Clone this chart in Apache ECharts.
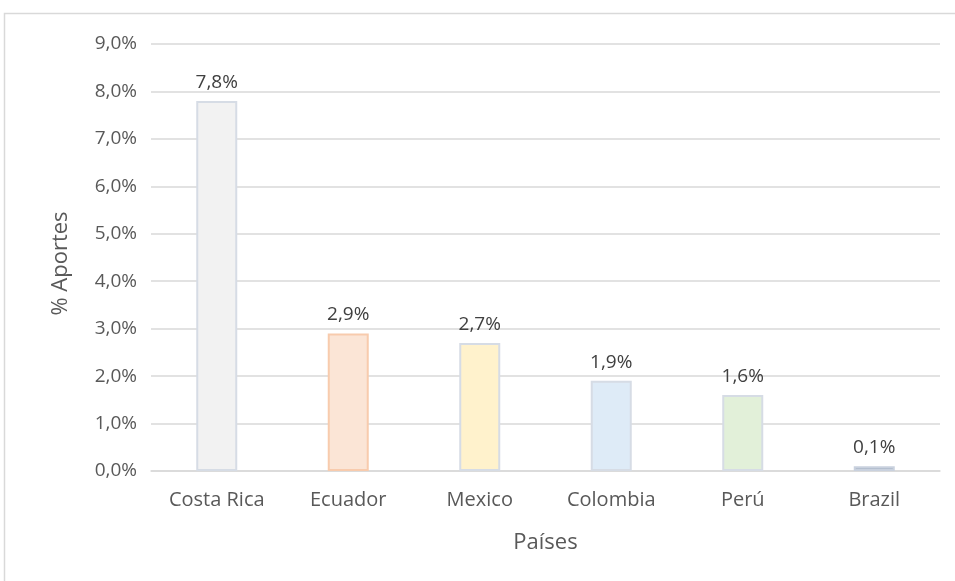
<!DOCTYPE html>
<html>
<head>
<meta charset="utf-8">
<script src="https://cdn.jsdelivr.net/npm/echarts@6/dist/echarts.min.js"></script>
<style>
  html, body { margin: 0; padding: 0; background: #fff; }
  #main { width: 955px; height: 581px; }
</style>
</head>
<body>
<div id="main"></div>
<script>
// datos del gráfico
var paises = ['Costa Rica', 'Ecuador', 'Mexico', 'Colombia', 'Perú', 'Brazil'];
var aportes = [7.8, 2.9, 2.7, 1.9, 1.6, 0.1];
var rellenos = ['#f2f2f2', '#fbe5d6', '#fff2cc', '#deebf7', '#e2f0d9', '#adb9ca'];
var bordes = ['#d6dce5', '#f8cbad', '#d6dce5', '#d6dce5', '#d6dce5', '#c9d1de'];

var myChart = echarts.init(document.getElementById('main'));

var fuente = '"Open Sans", "Liberation Sans", sans-serif';

function pct(v) {
    return v.toFixed(1).replace('.', ',') + '%';
}

var option = {
    animation: false,
    textStyle: { fontFamily: fuente },
    graphic: [
        {
            type: 'rect',
            shape: { x: 4.5, y: 13.5, width: 980, height: 600 },
            style: { fill: 'none', stroke: '#d9d9d9', lineWidth: 1.5 },
            silent: true
        }
    ],
    grid: {
        left: 151,
        right: 15,
        top: 44,
        bottom: 110
    },
    xAxis: {
        type: 'category',
        data: paises,
        name: 'Países',
        nameLocation: 'middle',
        nameGap: 61,
        nameTextStyle: { fontSize: 22, color: '#595959', fontFamily: fuente },
        axisTick: { show: false },
        axisLine: { lineStyle: { color: '#d9d9d9', width: 1.5 } },
        axisLabel: { fontSize: 20, color: '#595959', margin: 19, fontFamily: fuente }
    },
    yAxis: {
        type: 'value',
        min: 0,
        max: 9,
        interval: 1,
        name: '% Aportes',
        nameLocation: 'middle',
        nameGap: 79,
        nameTextStyle: { fontSize: 22, color: '#595959', fontFamily: fuente, padding: [0, 12, 0, 0] },
        axisLine: { show: false },
        axisTick: { show: false },
        splitLine: { lineStyle: { color: '#d9d9d9', width: 1.5 } },
        axisLabel: {
            fontSize: 19,
            color: '#595959',
            margin: 14,
            fontFamily: fuente,
            formatter: pct
        }
    },
    series: [
        {
            type: 'bar',
            barWidth: 41,
            data: aportes.map(function (v, i) {
                return {
                    value: v,
                    itemStyle: { color: rellenos[i], borderColor: bordes[i], borderWidth: 2 }
                };
            }),
            label: {
                show: true,
                position: 'top',
                distance: 9,
                fontSize: 19,
                color: '#404040',
                fontFamily: fuente,
                formatter: function (p) { return pct(p.value); }
            }
        }
    ]
};

myChart.setOption(option);
</script>
</body>
</html>
